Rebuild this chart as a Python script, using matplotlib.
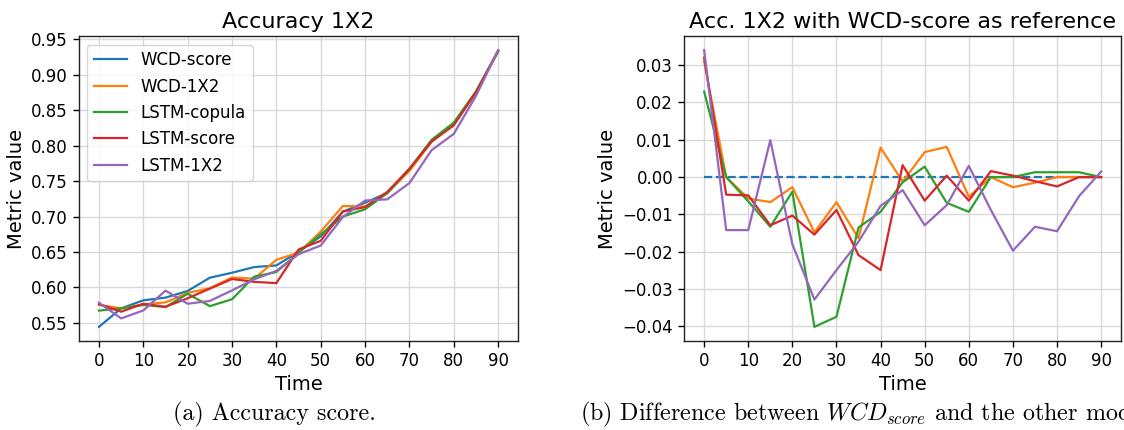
import matplotlib
matplotlib.use("Agg")
import matplotlib.pyplot as plt
import numpy as np

# ---- data ----
time = [0, 5, 10, 15, 20, 25, 30, 35, 40, 45, 50, 55, 60, 65, 70, 75, 80, 85, 90]
xticks = [0, 10, 20, 30, 40, 50, 60, 70, 80, 90]

wcd_score = [0.5444, 0.5705, 0.5818, 0.5856, 0.5950, 0.6137, 0.6207, 0.6287, 0.6310,
             0.6503, 0.6720, 0.7068, 0.7195, 0.7330, 0.7668, 0.8068, 0.8310, 0.8750, 0.9331]

# differences (model - WCD-score)
diff_wcd_1x2 = [0.0310, 0.0000, -0.0057, -0.0067, -0.0027, -0.0148, -0.0067, -0.0164, 0.0079,
                -0.0012, 0.0067, 0.0081, -0.0053, 0.0000, -0.0027, -0.0015, 0.0000, 0.0000, 0.0000]
diff_lstm_copula = [0.0229, 0.0000, -0.0065, -0.0133, -0.0039, -0.0401, -0.0374, -0.0135, -0.0093,
                    -0.0014, 0.0028, -0.0069, -0.0093, 0.0000, 0.0000, 0.0013, 0.0013, 0.0013, 0.0000]
diff_lstm_score = [0.0320, -0.0047, -0.0049, -0.0129, -0.0103, -0.0154, -0.0088, -0.0209, -0.0249,
                   0.0032, -0.0063, 0.0004, -0.0063, 0.0016, 0.0004, -0.0011, -0.0025, 0.0000, 0.0000]
diff_lstm_1x2 = [0.0340, -0.0142, -0.0142, 0.0099, -0.0180, -0.0328, -0.0249, -0.0173, -0.0077,
                 -0.0035, -0.0129, -0.0075, 0.0030, -0.0088, -0.0197, -0.0133, -0.0145, -0.0051, 0.0015]
diff_wcd_score = [0.0] * len(time)

series_names = ["WCD-score", "WCD-1X2", "LSTM-copula", "LSTM-score", "LSTM-1X2"]
title_left = "Accuracy 1X2"
title_right = "Acc. 1X2 with WCD-score as reference"
caption_a = "(a) Accuracy score."
caption_b = r"(b) Difference between $WCD_{score}$ and the other models."

# accuracy of each model = WCD-score + difference
wcd = np.array(wcd_score)
acc = [wcd,
       wcd + np.array(diff_wcd_1x2),
       wcd + np.array(diff_lstm_copula),
       wcd + np.array(diff_lstm_score),
       wcd + np.array(diff_lstm_1x2)]
diffs = [diff_wcd_1x2, diff_lstm_copula, diff_lstm_score, diff_lstm_1x2]
colors = ["#1f77b4", "#ff7f0e", "#2ca02c", "#d62728", "#9467bd"]

plt.rcParams.update({
    "font.family": "DejaVu Sans",
    "axes.edgecolor": "#222222",
    "axes.linewidth": 1.0,
    "xtick.major.size": 4.5,
    "ytick.major.size": 4.5,
    "xtick.major.width": 1.0,
    "ytick.major.width": 1.0,
})

fig = plt.figure(figsize=(11.24, 4.30), dpi=100)
ax1 = fig.add_axes([0.0703, 0.2077, 0.3906, 0.7079])
ax2 = fig.add_axes([0.6088, 0.2077, 0.3885, 0.7079])

for ax in (ax1, ax2):
    ax.grid(True, color="#d9d9d9", linewidth=1.0)
    ax.set_axisbelow(True)
    ax.tick_params(labelsize=12)
    ax.set_xticks(xticks)
    ax.set_xlabel("Time", fontsize=14)
    ax.set_ylabel("Metric value", fontsize=14)

for name, y, c in zip(series_names, acc, colors):
    ax1.plot(time, y, color=c, lw=1.6, label=name)
ax1.set_yticks([0.55, 0.60, 0.65, 0.70, 0.75, 0.80, 0.85, 0.90, 0.95])
ax1.set_title(title_left, fontsize=16)
leg = ax1.legend(loc="upper left", fontsize=12, framealpha=0.8, edgecolor="#cccccc")

ax2.plot(time, diff_wcd_score, color=colors[0], lw=1.6, ls="--")
for y, c in zip(diffs, colors[1:]):
    ax2.plot(time, y, color=c, lw=1.6)
ax2.set_yticks([-0.04, -0.03, -0.02, -0.01, 0.0, 0.01, 0.02, 0.03])
ax2.set_title(title_right, fontsize=16)

fig.text(0.1537, 0.0216, caption_a, fontsize=17.3, family="cmr10",
         math_fontfamily="cm", ha="left", va="baseline")
fig.text(0.5160, 0.0216, caption_b, fontsize=17.3, family="cmr10",
         math_fontfamily="cm", ha="left", va="baseline")

fig.savefig("out.png", dpi=100)
